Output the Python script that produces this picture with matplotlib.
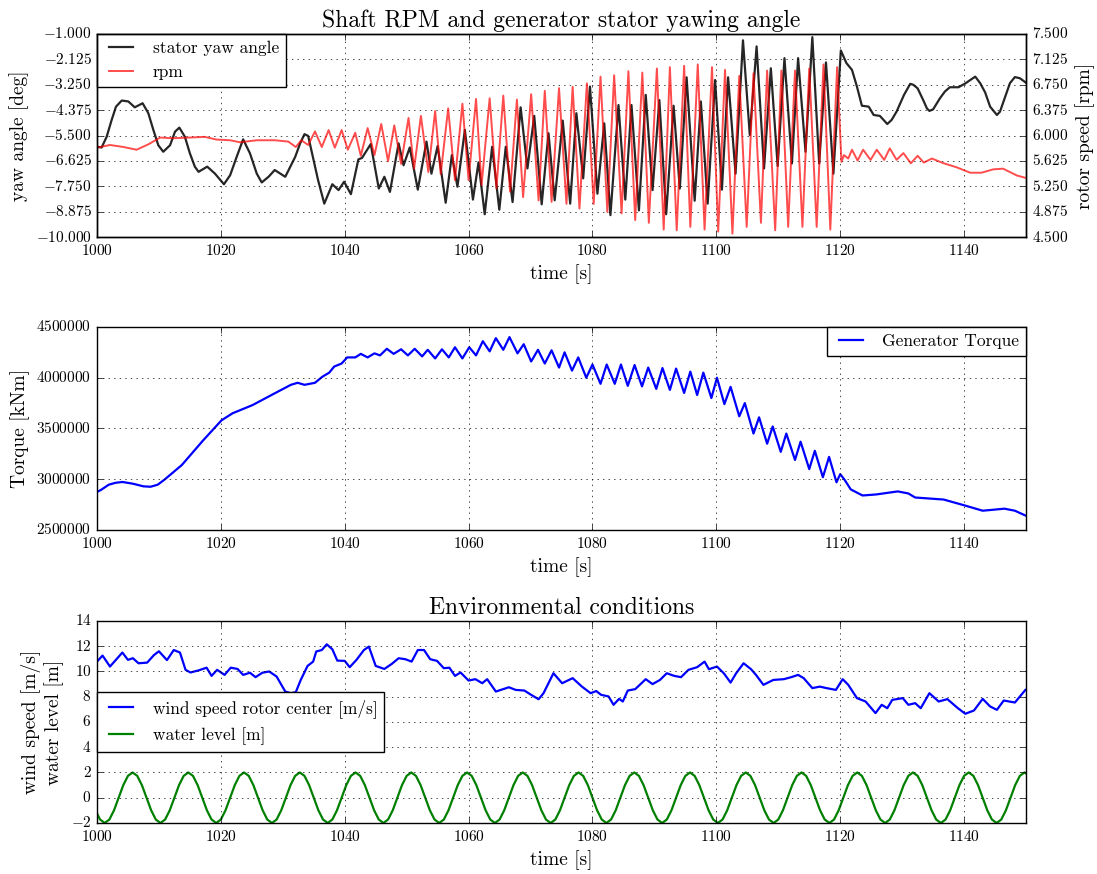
import numpy as np
import matplotlib
matplotlib.use('Agg')
import matplotlib.pyplot as plt

plt.style.use('classic')
plt.rcParams['font.family'] = 'serif'
plt.rcParams['font.serif'] = ['cmr10']
plt.rcParams['mathtext.fontset'] = 'cm'
plt.rcParams['axes.formatter.use_mathtext'] = True
plt.rcParams['axes.unicode_minus'] = True

# stator yaw angle [deg]
yaw_t = [1000.0, 1000.75, 1001.56, 1002.37, 1003.07, 1004.0, 1005.06, 1006.1, 1007.37, 1008.29,
         1009.1, 1009.9, 1010.7, 1011.8, 1012.6, 1013.3, 1014.2, 1015.0, 1015.8, 1016.4,
         1017.8, 1019.05, 1020.5, 1021.5, 1022.55, 1023.6, 1024.7, 1025.8, 1026.6, 1027.7,
         1028.7, 1030.4, 1032.0, 1032.8, 1033.5, 1034.1, 1035.2, 1035.7, 1036.7, 1038.0,
         1039.0, 1039.9, 1041.0, 1042.2, 1042.8,
         1044.2, 1045.5, 1046.4, 1047.3, 1048.7, 1049.5, 1050.5, 1051.8, 1053.2, 1054.0,
         1055.0, 1056.3, 1057.3, 1058.2, 1059.4, 1060.7, 1061.6, 1062.6, 1063.8, 1064.96,
         1066.0, 1067.1, 1068.4, 1069.5, 1070.6, 1071.8, 1072.9, 1073.9, 1075.2, 1076.4,
         1077.4, 1078.5, 1079.6, 1080.8, 1081.9, 1082.9, 1084.2, 1085.3, 1086.3, 1087.5,
         1088.6, 1089.7, 1090.8, 1091.9, 1093.1, 1094.1, 1095.2, 1096.5, 1097.5, 1098.6,
         1099.8, 1100.9, 1101.9, 1103.1, 1104.3, 1105.4, 1106.5, 1107.7, 1108.8, 1109.9,
         1111.0, 1112.2, 1113.2, 1114.4, 1115.5, 1116.6, 1117.7, 1118.9, 1120.1, 1121.0,
         1121.9, 1122.7, 1123.5, 1124.6, 1125.4, 1126.4, 1127.6, 1128.3, 1129.1, 1129.7,
         1130.3, 1131.3, 1131.8, 1132.5, 1133.4, 1134.0, 1134.4, 1135.0, 1136.1, 1136.9,
         1137.7, 1139.1, 1140.2, 1141.0, 1141.8, 1142.6, 1143.4, 1144.2, 1145.3, 1145.8,
         1146.6, 1147.4, 1148.2, 1149.0, 1150.1]
yaw_deg = [-6.00, -6.03, -5.56, -4.81, -4.22, -3.95, -3.99, -4.25, -4.07, -4.51,
           -5.25, -5.93, -6.22, -5.93, -5.33, -5.15, -5.56, -6.29, -6.88, -7.11,
           -6.88, -7.19, -7.66, -7.26, -6.45, -5.67, -6.29, -7.19, -7.58, -7.33,
           -7.03, -7.33, -6.45, -5.85, -5.44, -5.52, -6.88, -7.48, -8.52, -7.66,
           -7.92, -7.55, -8.10, -6.56, -6.49,
           -5.88, -7.85, -7.33, -8.00, -5.85, -6.82, -6.03, -7.90, -5.77, -7.19,
           -5.97, -8.48, -6.37, -7.77, -5.25, -8.34, -6.69, -8.99, -6.00, -8.79,
           -6.00, -8.45, -4.25, -6.96, -4.63, -8.55, -5.40, -8.37, -4.84, -8.52,
           -4.51, -7.40, -3.33, -8.08, -4.96, -9.03, -4.15, -8.34, -4.15, -8.82,
           -3.70, -7.92, -3.93, -8.99, -4.18, -7.85, -2.92, -8.39, -3.99, -8.52,
           -3.04, -7.90, -2.92, -7.19, -1.28, -5.48, -1.55, -6.96, -2.52, -6.85,
           -2.07, -6.74, -2.07, -6.22, -1.14, -6.74, -2.26, -7.19, -1.73, -2.29,
           -2.59, -3.33, -4.18, -4.22, -4.59, -4.63, -4.99, -4.81, -4.44, -4.07,
           -3.70, -3.21, -3.25, -3.41, -3.93, -4.30, -4.41, -4.34, -3.85, -3.55,
           -3.36, -3.36, -3.19, -3.04, -2.89, -3.18, -3.59, -4.22, -4.59, -4.44,
           -3.81, -3.18, -2.91, -2.96, -3.18]

# rotor speed [rpm]
rpm_t = [1000.0, 1002.1, 1004.3, 1006.4, 1008.3, 1010.2, 1012.3, 1015.0, 1017.4, 1019.3,
         1021.5, 1023.1, 1025.8, 1028.7, 1030.9, 1032.1, 1033.0,
         1034.1, 1035.2, 1036.3, 1037.4, 1038.4, 1039.5, 1040.5, 1041.7, 1042.6, 1043.7,
         1044.8, 1045.9, 1047.0, 1048.0, 1049.1, 1050.3, 1051.2, 1052.3, 1053.5, 1054.6,
         1055.5, 1056.7, 1057.8, 1059.0, 1060.0, 1061.2, 1062.1, 1063.4, 1064.5, 1065.6,
         1066.7, 1067.8, 1068.8, 1070.1, 1071.3, 1072.3, 1073.4, 1074.6, 1075.8, 1076.8,
         1077.9, 1079.1, 1080.2, 1081.3, 1082.4, 1083.5, 1084.7, 1085.8, 1086.9, 1088.05,
         1089.1, 1090.4, 1091.5, 1092.5, 1093.6, 1094.8, 1095.8, 1097.0, 1098.1, 1099.3,
         1100.3, 1101.4, 1102.6, 1103.7, 1104.9, 1106.0, 1107.2, 1108.2, 1109.5, 1110.5,
         1111.6, 1112.7, 1113.9, 1115.0, 1116.2, 1117.3, 1118.4, 1119.5,
         1120.2, 1120.6, 1121.3, 1121.9, 1122.8, 1123.7, 1124.9, 1125.9, 1127.1, 1128.0,
         1129.1, 1130.2, 1131.4, 1132.5, 1133.5, 1134.8, 1136.7, 1138.8, 1141.0, 1142.8,
         1144.7, 1146.3, 1148.5, 1150.1]
rpm = [5.82, 5.86, 5.83, 5.79, 5.87, 5.97, 5.96, 5.97, 5.98, 5.94,
       5.93, 5.90, 5.93, 5.93, 5.91, 5.83, 5.93,
       5.86, 6.06, 5.83, 6.08, 5.82, 6.08, 5.79, 6.04, 5.70, 6.11,
       5.71, 6.17, 5.62, 6.15, 5.58, 6.26, 5.51, 6.29, 5.46, 6.36,
       5.43, 6.40, 5.34, 6.47, 5.34, 6.54, 5.27, 6.55, 5.22, 6.59,
       5.17, 6.53, 5.09, 6.61, 5.04, 6.66, 5.02, 6.70, 4.99, 6.72,
       4.92, 6.77, 4.99, 6.87, 4.87, 6.89, 4.85, 6.95, 4.75, 6.93,
       4.71, 6.99, 4.61, 7.01, 4.60, 7.03, 4.65, 7.05, 4.61, 7.01,
       4.58, 6.97, 4.55, 6.88, 4.65, 6.92, 4.71, 6.96, 4.60, 6.96,
       4.65, 6.96, 4.65, 6.99, 4.65, 7.05, 4.61, 7.01,
       5.61, 5.71, 5.66, 5.79, 5.63, 5.79, 5.64, 5.79, 5.64, 5.81,
       5.64, 5.74, 5.59, 5.70, 5.60, 5.66, 5.59, 5.53, 5.45, 5.45,
       5.50, 5.51, 5.41, 5.37]

# generator torque [kNm]
torque_t = [1000.0, 1000.7, 1001.9, 1003.0, 1004.1, 1005.8, 1007.5, 1008.65, 1009.8, 1010.9,
            1013.7, 1017.1, 1020.1, 1021.9,
            1025.1, 1028.5, 1031.3, 1032.4, 1033.5, 1035.2, 1036.4, 1037.5, 1038.3, 1039.5,
            1040.4, 1041.7, 1042.6, 1043.7, 1044.8, 1045.7, 1046.8, 1047.9, 1049.1, 1050.2,
            1051.3, 1052.5, 1053.4, 1054.6, 1055.7, 1056.8, 1057.8, 1059.0, 1060.1, 1061.2,
            1062.3, 1063.4, 1064.4, 1065.6, 1066.6, 1067.9, 1068.9, 1070.1, 1071.2, 1072.3,
            1073.4, 1074.6, 1075.5, 1076.7, 1077.7, 1079.0, 1080.0, 1081.3, 1082.3, 1083.6,
            1084.6, 1085.7, 1086.8, 1088.0, 1089.0, 1090.3, 1091.3, 1092.5, 1093.5, 1094.8,
            1095.8, 1096.9, 1097.9, 1099.2, 1100.1, 1101.3, 1102.3, 1103.7, 1104.6, 1106.0,
            1106.9, 1108.2, 1109.1, 1110.4, 1111.3, 1112.7, 1113.6, 1115.0, 1115.9, 1117.2,
            1118.2, 1119.4, 1120.0, 1120.7, 1121.7, 1123.6, 1125.8, 1128.1, 1129.3, 1131.0,
            1132.1, 1134.4, 1136.7, 1140.2, 1143.0, 1144.8, 1146.5, 1148.2, 1150.0]
torque = [2874000, 2897000, 2946000, 2965000, 2973000, 2956000, 2930000, 2926000, 2946000, 2996000,
          3140000, 3380000, 3580000, 3650000,
          3730000, 3840000, 3930000, 3950000, 3930000, 3950000, 4010000, 4050000, 4110000, 4140000,
          4200000, 4200000, 4235000, 4200000, 4240000, 4220000, 4285000, 4235000, 4280000, 4220000,
          4285000, 4210000, 4275000, 4190000, 4280000, 4200000, 4300000, 4190000, 4300000, 4220000,
          4360000, 4260000, 4390000, 4275000, 4400000, 4240000, 4330000, 4160000, 4275000, 4140000,
          4270000, 4100000, 4250000, 4070000, 4200000, 4000000, 4130000, 3940000, 4130000, 3940000,
          4130000, 3920000, 4125000, 3915000, 4100000, 3890000, 4095000, 3880000, 4090000, 3850000,
          4060000, 3830000, 4050000, 3800000, 4000000, 3740000, 3910000, 3620000, 3750000, 3450000,
          3610000, 3350000, 3520000, 3270000, 3450000, 3190000, 3370000, 3100000, 3280000, 3020000,
          3220000, 2970000, 3050000, 2995000, 2900000, 2840000, 2850000, 2870000, 2880000, 2860000,
          2820000, 2810000, 2800000, 2740000, 2690000, 2700000, 2710000, 2690000, 2640000]

# wind speed at rotor center [m/s]
wind_t = [1000.0, 1000.9, 1002.1, 1003.3, 1004.1, 1005.0, 1005.8, 1006.7, 1008.1, 1009.2,
          1010.0, 1011.3, 1012.4, 1013.4, 1014.3, 1015.1, 1016.5, 1017.7, 1018.5, 1019.4,
          1020.6, 1021.6, 1022.7, 1023.6, 1024.7, 1025.6, 1026.7, 1027.8, 1029.0, 1030.4,
          1031.3, 1032.1, 1032.9, 1034.0, 1034.9, 1035.4, 1036.3, 1037.1, 1038.0, 1038.8,
          1040.0, 1040.8, 1041.9, 1043.1, 1043.9, 1045.0, 1046.4, 1047.6, 1048.7, 1049.8,
          1050.8, 1051.8, 1052.8, 1053.8, 1054.9, 1056.0, 1056.9, 1057.8, 1058.7, 1060.0,
          1061.1, 1062.2, 1063.0, 1064.4, 1065.6, 1066.5, 1067.6, 1069.0, 1070.1, 1071.3,
          1072.1, 1072.9, 1073.7, 1075.1, 1076.8, 1078.3, 1079.7, 1080.6, 1081.4, 1082.6,
          1083.4, 1084.3, 1084.9, 1085.7, 1086.9, 1088.6, 1089.7, 1090.9, 1092.0, 1093.2,
          1094.3, 1095.5, 1096.9, 1098.1, 1098.8, 1100.1, 1101.2, 1102.3, 1103.2, 1104.4,
          1105.6, 1106.4, 1107.6, 1109.2, 1110.9, 1112.1, 1113.2, 1114.1, 1115.5, 1116.7,
          1117.8, 1119.3, 1120.4, 1121.3, 1122.7, 1124.1, 1125.7, 1126.7, 1127.6, 1128.4,
          1130.1, 1131.0, 1132.1, 1133.0, 1134.4, 1135.9, 1137.3, 1139.0, 1140.2, 1141.6,
          1143.0, 1144.2, 1145.3, 1146.4, 1148.2, 1149.9]
wind = [10.78, 11.26, 10.39, 11.05, 11.50, 10.92, 11.05, 10.65, 10.70, 11.30,
        11.60, 10.90, 11.70, 11.50, 10.13, 9.92, 10.10, 10.30, 9.65, 10.13,
        9.73, 10.30, 10.20, 9.73, 9.90, 9.55, 9.90, 10.00, 9.60, 8.41,
        8.28, 8.36, 9.33, 10.44, 10.78, 11.58, 11.70, 12.15, 11.76, 10.86,
        10.84, 10.34, 10.92, 11.70, 11.97, 10.44, 10.20, 10.60, 11.05, 10.97,
        10.78, 11.70, 11.70, 10.97, 10.84, 10.26, 10.30, 9.65, 9.92, 9.28,
        9.39, 9.07, 9.39, 8.41, 8.60, 8.75, 8.54, 8.49, 8.15, 7.80,
        8.28, 9.07, 9.86, 9.07, 9.47, 8.80, 8.28, 8.45, 8.15, 8.02,
        7.36, 7.83, 7.62, 8.49, 8.60, 9.39, 9.00, 9.33, 9.86, 9.65,
        9.55, 10.13, 10.34, 10.78, 10.18, 10.39, 9.86, 9.12, 9.86, 10.65,
        10.18, 9.73, 8.94, 9.33, 9.39, 9.55, 9.73, 9.47, 8.68, 8.80,
        8.68, 8.54, 9.39, 8.94, 7.89, 7.62, 6.70, 7.36, 7.09, 7.75,
        7.89, 7.36, 7.49, 7.09, 8.28, 7.62, 7.81, 7.09, 6.65, 6.91,
        7.83, 7.23, 6.96, 7.70, 7.54, 8.54]

# water level [m], sampled every 0.75 s from t = 999.75 s
water_t0, water_dt = 999.75, 0.75
water = [-1.0, -1.73, -2.0, -1.73, -1.0, 0.0, 1.0, 1.73, 2.0, 1.73, 1.0, 0.0,
         -1.0, -1.73, -2.0, -1.73, -1.0, 0.0, 1.0, 1.73, 2.0, 1.73, 1.0, 0.0,
         -1.0, -1.73, -2.0, -1.73, -1.0, 0.0, 1.0, 1.73, 2.0, 1.73, 1.0, 0.0,
         -1.0, -1.73, -2.0, -1.73, -1.0, 0.0, 1.0, 1.73, 2.0, 1.73, 1.0, 0.0,
         -1.0, -1.73, -2.0, -1.73, -1.0, 0.0, 1.0, 1.73, 2.0, 1.73, 1.0, 0.0,
         -1.0, -1.73, -2.0, -1.73, -1.0, 0.0, 1.0, 1.73, 2.0, 1.73, 1.0, 0.0,
         -1.0, -1.73, -2.0, -1.73, -1.0, 0.0, 1.0, 1.73, 2.0, 1.73, 1.0, 0.0,
         -1.0, -1.73, -2.0, -1.73, -1.0, 0.0, 1.0, 1.73, 2.0, 1.73, 1.0, 0.0,
         -1.0, -1.73, -2.0, -1.73, -1.0, 0.0, 1.0, 1.73, 2.0, 1.73, 1.0, 0.0,
         -1.0, -1.73, -2.0, -1.73, -1.0, 0.0, 1.0, 1.73, 2.0, 1.73, 1.0, 0.0,
         -1.0, -1.73, -2.0, -1.73, -1.0, 0.0, 1.0, 1.73, 2.0, 1.73, 1.0, 0.0,
         -1.0, -1.73, -2.0, -1.73, -1.0, 0.0, 1.0, 1.73, 2.0, 1.73, 1.0, 0.0,
         -1.0, -1.73, -2.0, -1.73, -1.0, 0.0, 1.0, 1.73, 2.0, 1.73, 1.0, 0.0,
         -1.0, -1.73, -2.0, -1.73, -1.0, 0.0, 1.0, 1.73, 2.0, 1.73, 1.0, 0.0,
         -1.0, -1.73, -2.0, -1.73, -1.0, 0.0, 1.0, 1.73, 2.0, 1.73, 1.0, 0.0,
         -1.0, -1.73, -2.0, -1.73, -1.0, 0.0, 1.0, 1.73, 2.0, 1.73, 1.0, 0.0,
         -1.0, -1.73, -2.0, -1.73, -1.0, 0.0, 1.0, 1.73, 2.0, 1.73]
water_t = water_t0 + water_dt * np.arange(len(water))

TLAB = 14
TICK = 11
LEG = 12.5

fig = plt.figure(figsize=(10.97, 8.74), dpi=100, facecolor='white')
left, width = 0.0884, 0.8469

# --- shaft rpm and yaw angle
ax1 = fig.add_axes([left, 0.7288, width, 0.2323])
l1, = ax1.plot(yaw_t, yaw_deg, color='k', lw=1.6, alpha=0.85, solid_joinstyle='round')
ax1.set_xlim(1000, 1150)
ax1.set_ylim(-10, -1)
ax1.set_yticks(np.linspace(-10, -1, 9))
ax1.set_xticks(np.arange(1000, 1150, 20))
ax1.grid(True)
ax1.set_xlabel('time [s]', fontsize=TLAB)
ax1.set_ylabel('yaw angle [deg]', fontsize=TLAB)
ax1.set_title('Shaft RPM and generator stator yawing angle', fontsize=17)
ax1.tick_params(labelsize=TICK)

ax2 = ax1.twinx()
l2, = ax2.plot(rpm_t, rpm, color='r', lw=1.4, alpha=0.7, solid_joinstyle='round')
ax2.set_xlim(1000, 1150)
ax2.set_ylim(4.5, 7.5)
ax2.set_yticks(np.linspace(4.5, 7.5, 9))
ax2.set_ylabel('rotor speed [rpm]', fontsize=TLAB)
ax2.tick_params(labelsize=TICK)
ax1.legend([l1, l2], ['stator yaw angle', 'rpm'], loc='upper left',
           borderaxespad=0, fontsize=LEG)

# --- generator torque
ax3 = fig.add_axes([left, 0.3936, width, 0.2323])
ax3.plot(torque_t, torque, color='b', lw=1.6, solid_joinstyle='round',
         label='Generator Torque')
ax3.set_xlim(1000, 1150)
ax3.set_ylim(2500000, 4500000)
ax3.set_yticks(np.arange(2500000, 4500001, 500000))
ax3.set_xticks(np.arange(1000, 1150, 20))
ax3.ticklabel_format(axis='y', style='plain', useOffset=False)
ax3.grid(True)
ax3.set_xlabel('time [s]', fontsize=TLAB)
ax3.set_ylabel('Torque [kNm]', fontsize=TLAB)
ax3.tick_params(labelsize=TICK)
ax3.legend(loc='upper right', borderaxespad=0, fontsize=LEG)

# --- environment
ax4 = fig.add_axes([left, 0.0584, width, 0.2311])
ax4.plot(wind_t, wind, color='b', lw=1.6, solid_joinstyle='round',
         label='wind speed rotor center [m/s]')
ax4.plot(water_t, water, color='g', lw=1.6, label='water level [m]')
ax4.set_xlim(1000, 1150)
ax4.set_ylim(-2, 14)
ax4.set_yticks(np.arange(-2, 15, 2))
ax4.set_xticks(np.arange(1000, 1150, 20))
ax4.grid(True)
ax4.set_xlabel('time [s]', fontsize=TLAB)
ax4.set_ylabel('wind speed [m/s]\nwater level [m]', fontsize=TLAB)
ax4.set_title('Environmental conditions', fontsize=17)
ax4.tick_params(labelsize=TICK)
ax4.legend(loc='center left', borderaxespad=0, fontsize=LEG)

fig.savefig('out.png', dpi=100, facecolor='white')
